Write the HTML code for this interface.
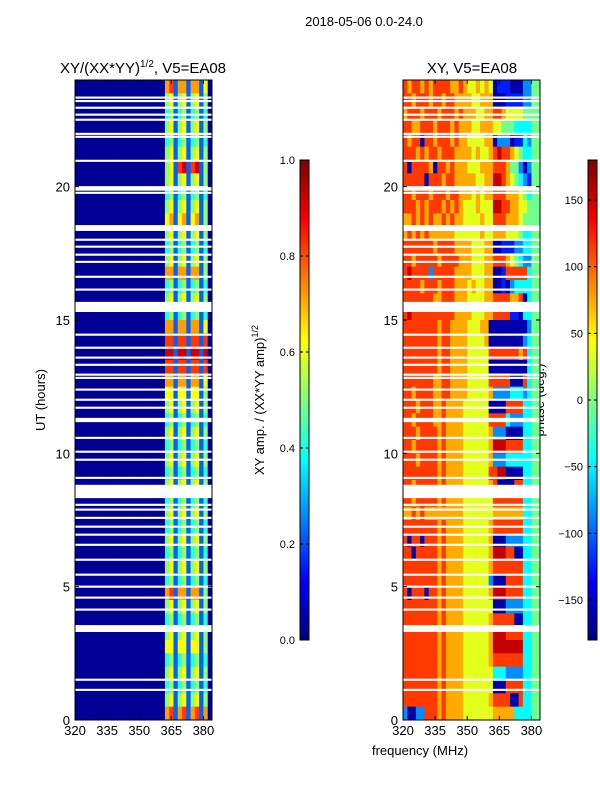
<!DOCTYPE html>
<html><head><meta charset="utf-8">
<style>
body{margin:0;background:#fff;}
svg{display:block;font-family:"Liberation Sans",sans-serif;}
</style></head>
<body>
<svg id="chart" width="600" height="800" xmlns="http://www.w3.org/2000/svg">
<text x="364" y="26" font-size="13" text-anchor="middle">2018-05-06 0.0-24.0</text>
<text x="143" y="73" font-size="15" text-anchor="middle">XY/(XX*YY)<tspan font-size="10" dy="-6">1/2</tspan><tspan dy="6">, V5=EA08</tspan></text>
<text x="472" y="73" font-size="15" text-anchor="middle">XY, V5=EA08</text>
<text x="45" y="400" font-size="13" text-anchor="middle" transform="rotate(-90 45 400)">UT (hours)</text>
<text x="420" y="755" font-size="13" text-anchor="middle">frequency (MHz)</text>
<text x="264" y="400" font-size="13" text-anchor="middle" transform="rotate(-90 264 400)">XY amp. / (XX*YY amp)<tspan font-size="9" dy="-6">1/2</tspan></text>
<text x="544" y="400" font-size="13" text-anchor="middle" transform="rotate(-90 544 400)">phase (deg.)</text>
<g id="layer"></g>
</svg>
<script>
// ---- data ----
const timeRange = [0, 24];
const freqRange = [320, 384];
const freqTicks = [320, 335, 350, 365, 380];
const timeTicks = [0, 5, 10, 15, 20];
const ampTicks = [0.0, 0.2, 0.4, 0.6, 0.8, 1.0];
const phaseTicks = [-150, -100, -50, 0, 50, 100, 150];
// amplitude rows (top = 23.5-24h), 32 channels of 2 MHz
const ampTail = [
"78277277260","56256256250","45245245240","56256256250","45245245240","56256256250",
"56289289250","56256256250","45245245240","56256256250","67267267250","56256256250",
"45245245240","56256256250","77277277250","45245245240","56256256250","45245245240",
"77277277260","88288288280","99299299290","88288288280","77277277260","66266266250",
"56256256250","45245245240","56256256250","45245245240","56256256250","45245245240",
"56256256250","45245245240","56256256250","45245245240","56256256250","45245245240",
"56256256250","45245245240","78277277250","56256256250","45245245240","56256256250",
"66266266250","45245245240","56256256250","45245245240","56256256250","78278278270"];
const ampBase = "000000000000000000000";
// phase rows, digit code per channel
const phaseRows = [
"87887878888778766767612221113355","88788878878877776677711122223355","78887888788878777667788766665555",
"88778887888787776677766555444455","87881887888787766667713331224355","88878788788877776766789887654455",
"81888871887877766677788875531355","88888188878877777667799876543255","88788878887887776767788877765455",
"88878788878787666766699887766555","77878787787877666676688877765555","78787877777766666676677766654455",
"88888887888877776667711222334455","88788888788887776667788876543355","89888838888877776667711288888455",
"88887888788877767667711213444455","88888887788877766667788887781455","89888888888877776667788882214455",
"88888888788777766677111111111355","88888888788777766667111111113455","88888888788777766666888888878455",
"88888888788777766666111111111455","88888887788777766666888881118455","88788887788777766666733334443455",
"88878887787777666666111188884455","88788887787777666666888843334455","88878888787777666666733311114455",
"88788888787777666666799988884455","88878888787777666666733344444455","88888888787777666666889911114455",
"88788888787777666666781111884455","88788888787777666666688888884455","77878777777777666666677777774455",
"88888888787777666666788888884455","81881888787777666666711133334455","88188888787777666666799988114455",
"88888888787777666666788888884455","88888888787777666666311188884455","81888188787777666666799988884455",
"88888888787777666666611133334455","88888888787777666666788888114455","88888888787777666666799988884455",
"88888888787777666666799999994455","88888888787777666666788888884455","88888888787777666666644433334455",
"88888888787777666666611188884455","88888888787777666666788881184455","31133888787777666666677777444455"];
// flagged (blank) time intervals, hours
const flagStart = [23.3,23.17,22.92,22.66,22.47,21.94,21.83,20.93,19.85,19.73,18.34,17.97,17.71,17.41,17.14,16.58,16.1,15.3,14.41,13.92,13.55,13.28,12.91,12.79,12.35,11.97,11.67,11.17,10.54,10.02,9.72,9.04,8.32,8.03,7.85,7.54,7.21,6.91,6.53,5.97,5.41,4.96,4.55,4.1,3.3,1.47,1.09];
const flagLen =   [0.08,0.08,0.08,0.08,0.08,0.08,0.08,0.08,0.17,0.08,0.22,0.08,0.08,0.08,0.08,0.08,0.08,0.38,0.08,0.08,0.08,0.08,0.08,0.08,0.08,0.08,0.08,0.16,0.08,0.08,0.08,0.08,0.5,0.08,0.08,0.08,0.08,0.08,0.08,0.08,0.08,0.08,0.08,0.08,0.26,0.08,0.08];

// ---- rendering ----
const NS = "http://www.w3.org/2000/svg";
const layer = document.getElementById('layer');
function jet(v){v=Math.max(0,Math.min(1,v));
 const r=Math.max(0,Math.min(1,1.5-Math.abs(4*v-3)));
 const g=Math.max(0,Math.min(1,1.5-Math.abs(4*v-2)));
 const b=Math.max(0,Math.min(1,1.5-Math.abs(4*v-1)));
 return `rgb(${Math.round(r*255)},${Math.round(g*255)},${Math.round(b*255)})`;}
function mk(tag, attrs, parent){const e=document.createElementNS(NS,tag);for(const k in attrs)e.setAttribute(k,attrs[k]);(parent||layer).appendChild(e);return e;}
const yTop=80, yBot=720;
function yT(t){return yBot-(t-timeRange[0])/(timeRange[1]-timeRange[0])*(yBot-yTop);}
function panel(x0,x1,name,rowsFn,valFn){
 const xF=f=>x0+(f-freqRange[0])/(freqRange[1]-freqRange[0])*(x1-x0);
 const g=mk('g',{});
 
 
 const nR=rowsFn.length, dt=(timeRange[1]-timeRange[0])/nR;
 rowsFn.forEach((row,i)=>{
  const t1=timeRange[1]-i*dt, t0=t1-dt;
  const nC=row.length, df=(freqRange[1]-freqRange[0])/nC;
  for(let j=0;j<nC;j++){
   const f0=freqRange[0]+j*df;
   const r=mk('rect',{x:xF(f0),y:yT(t1),width:xF(f0+df)-xF(f0)+0.4,height:yT(t0)-yT(t1)+0.4,fill:jet(valFn(+row[j]))},g);
   
   
  }
 });
 flagStart.forEach((s,k)=>{
  const r=mk('rect',{x:x0,y:yT(s+flagLen[k]),width:x1-x0,height:yT(s)-yT(s+flagLen[k]),fill:'#fff'},g);
  
  
 });
 const fr=mk('rect',{x:x0,y:yTop,width:x1-x0,height:yBot-yTop,fill:'none',stroke:'#000','stroke-width':1},g);
 
 
 timeTicks.forEach(t=>{
  mk('line',{x1:x0,x2:x0+4,y1:yT(t),y2:yT(t),stroke:'#000'},g);
  mk('line',{x1:x1,x2:x1-4,y1:yT(t),y2:yT(t),stroke:'#000'},g);
  const tx=mk('text',{x:x0-5,y:yT(t)+5,'font-size':13,'text-anchor':'end'},g);
  tx.textContent=t;
  
  
 });
 freqTicks.forEach(f=>{
  mk('line',{x1:xF(f),x2:xF(f),y1:yBot,y2:yBot-4,stroke:'#000'},g);
  mk('line',{x1:xF(f),x2:xF(f),y1:yTop,y2:yTop+4,stroke:'#000'},g);
  const tx=mk('text',{x:xF(f),y:yBot+15,'font-size':13,'text-anchor':'middle'},g);
  tx.textContent=f;
  
  
 });
}
const ampRows = ampTail.map(s=>ampBase+s);
panel(75,212,'amp-heatmap',ampRows,d=>d/10+0.02);
panel(403,540,'phase-heatmap',phaseRows,d=>(d*40-25)/360);

function colorbar(x,name,lo,hi,ticks,fmt){
 const y0=160,y1=640,w=9;
 const g=mk('g',{});
 
 
 const n=120;
 for(let i=0;i<n;i++){
  mk('rect',{x:x,y:y1-(i+1)*(y1-y0)/n,width:w,height:(y1-y0)/n+0.5,fill:jet((i+0.5)/n)},g);
 }
 mk('rect',{x:x,y:y0,width:w,height:y1-y0,fill:'none',stroke:'#000'},g);
 ticks.forEach(v=>{
  const y=y1-(v-lo)/(hi-lo)*(y1-y0);
  mk('line',{x1:x,x2:x+3,y1:y,y2:y,stroke:'#000'},g);
  mk('line',{x1:x+w,x2:x+w-3,y1:y,y2:y,stroke:'#000'},g);
  const tx=mk('text',{x:x-5,y:y+4,'font-size':11,'text-anchor':'end'},g);
  tx.textContent=fmt(v);
  
  
 });
}
colorbar(300,'amp-colorbar',0,1,ampTicks,v=>v.toFixed(1));
colorbar(588,'phase-colorbar',-180,180,phaseTicks,v=>v<0?'\u2212'+(-v):String(v));
</script>
</body></html>
